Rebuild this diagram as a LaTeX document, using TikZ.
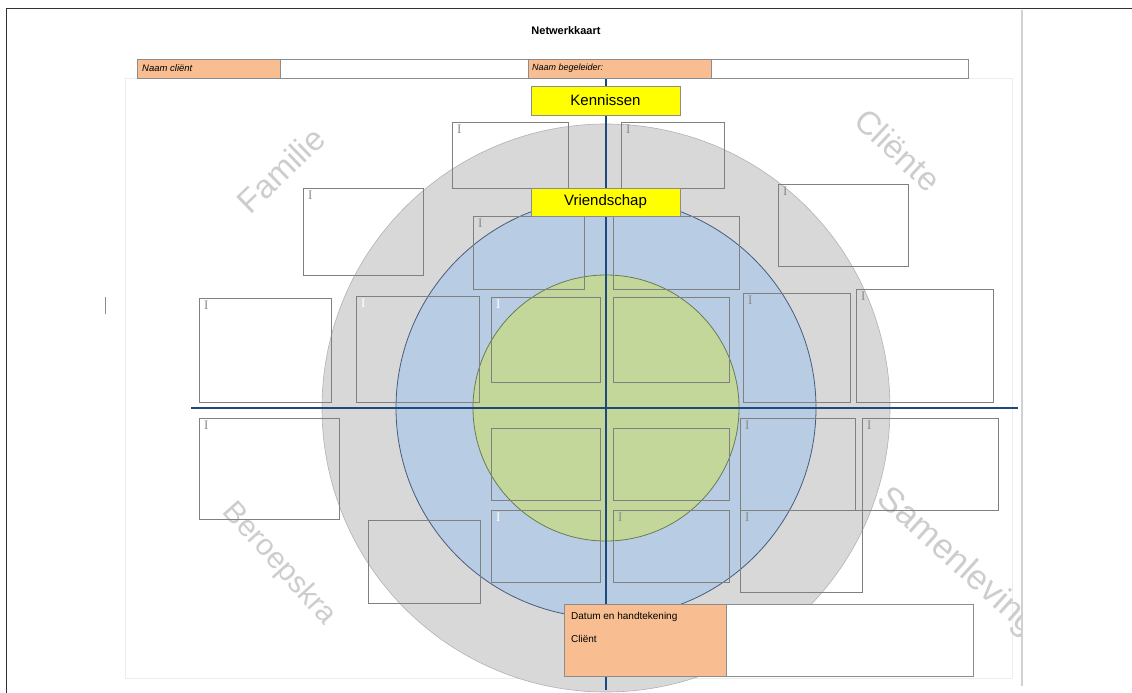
\documentclass[tikz,border=0pt]{standalone}
\usepackage{fontspec}
\setmainfont{Liberation Sans}
\newfontfamily\serifI{Liberation Serif}
\definecolor{circgray}{RGB}{216,216,216}
\definecolor{circblue}{RGB}{184,204,228}
\definecolor{circgreen}{RGB}{196,215,155}
\definecolor{bluebord}{RGB}{72,92,125}
\definecolor{greenbord}{RGB}{105,125,80}
\definecolor{axisblue}{RGB}{31,73,125}
\definecolor{boxgray}{RGB}{128,128,128}
\definecolor{nameorange}{RGB}{248,190,145}
\definecolor{kyellow}{RGB}{255,255,0}
\definecolor{wmgray}{RGB}{205,205,205}
\tikzset{
  nbox/.style={draw=boxgray, line width=0.9pt, anchor=north west, inner sep=0pt, outer sep=0pt},
  ilabel/.style={anchor=north west, inner sep=0pt, font=\serifI\fontsize{13}{13}\selectfont, text=black!45},
  iwhite/.style={ilabel, text=white},
  ybox/.style={draw=black!45, line width=0.9pt, fill=kyellow, anchor=north west, inner sep=0pt, outer sep=0pt, font=\fontsize{15}{15}\selectfont},
  obox/.style={draw=black!45, line width=0.8pt, fill=nameorange, anchor=north west, inner sep=0pt, outer sep=0pt},
  wbox/.style={draw=black!45, line width=0.8pt, fill=white, anchor=north west, inner sep=0pt, outer sep=0pt},
  wmark/.style={text=wmgray, font=\fontsize{33}{33}\selectfont, inner sep=0pt},
  axisline/.style={draw=axisblue, line width=2.6pt},
}
\newcommand\netbox[5]{\node[nbox, minimum width=#3pt, minimum height=#4pt] (#5) at (#1,#2) {};}
\begin{document}
\begin{tikzpicture}[x=1pt,y=-1pt]
\useasboundingbox (0,0) rectangle (1132,693);
% outer frame
\draw[black!80, line width=1pt] (6,693) -- (6,9) -- (1132,9);
% page
\draw[black!7, line width=0.8pt] (125,78) rectangle (1012,678);
\draw[black!18, line width=2pt] (1022,10) -- (1022,686);
\draw[black!45, line width=0.8pt] (105,297) -- (105,314);
% title
\node[font=\bfseries\fontsize{11}{11}\selectfont] (title) at (566,31) {Netwerkkaart};
% circles
\coordinate (c) at (606,408);
\fill[circgray] (c) circle (284);
\draw[black!30, line width=0.6pt] (c) circle (284);
\filldraw[fill=circblue, draw=bluebord, line width=0.8pt] (c) circle (210);
\filldraw[fill=circgreen, draw=greenbord, line width=0.8pt] (c) circle (133);
% watermark labels
\node[wmark, rotate=44] (fam) at (281,170) {Familie};
\node[wmark, rotate=-43] (cli) at (898,150) {Cliënte};
\node[wmark, rotate=-48, font=\fontsize{30}{30}\selectfont] (ber) at (279,564) {Beroepskra};
\begin{scope}
\clip (0,0) rectangle (1021,693);
\node[wmark, rotate=-42, font=\fontsize{35}{35}\selectfont] (sam) at (957,562) {Samenleving};
\end{scope}
% boxes
\netbox{452}{122}{116}{66}{b1}
\netbox{621}{122}{103}{66}{b2}
\netbox{303}{188}{120}{87}{b3}
\netbox{778}{184}{130}{82}{b4}
\netbox{473}{216}{111}{73}{b5}
\netbox{613}{216}{126}{73}{b6}
\netbox{199}{298}{132}{104}{b7}
\netbox{356}{296}{123}{106}{b8}
\netbox{491}{297}{109}{85}{b9}
\netbox{613}{297}{116}{85}{b10}
\netbox{743}{293}{107}{109}{b11}
\netbox{856}{289}{137}{113}{b12}
\netbox{199}{418}{140}{101}{b13}
\netbox{491}{428}{109}{72}{b14}
\netbox{613}{428}{116}{72}{b15}
\netbox{740}{418}{115}{92}{b16}
\netbox{862}{418}{136}{92}{b17}
\netbox{368}{520}{112}{83}{b18}
\netbox{491}{510}{109}{72}{b19}
\netbox{613}{510}{116}{72}{b20}
\netbox{740}{510}{122}{82}{b21}
% cursor marks
\foreach \b in {b1,b2,b3,b4,b5,b7,b11,b12,b13,b16,b17,b20,b21}
  \node[ilabel] at ([shift={(5,3)}]\b.north west) {I};
\foreach \b in {b8,b9,b19}
  \node[iwhite] at ([shift={(5,3)}]\b.north west) {I};
% axes
\coordinate (vtop) at (606,78);
\coordinate (vbot) at (606,690);
\coordinate (hl) at (191,408);
\coordinate (hr) at (1018,408);
\draw[axisline] (vtop) -- (vbot);
\draw[axisline] (hl) -- (hr);
% yellow labels
\node[ybox, minimum width=149pt, minimum height=29pt] (ken) at (531,86) {Kennissen};
\node[ybox, minimum width=149pt, minimum height=28pt] (vri) at (531,188) {Vriendschap};
% name bar
\node[obox, minimum width=143pt, minimum height=19pt] (nc) at (137,59) {};
\node[wbox, minimum width=248pt, minimum height=19pt] (ncv) at (280,59) {};
\node[obox, minimum width=183pt, minimum height=19pt] (nb) at (528,59) {};
\node[wbox, minimum width=257pt, minimum height=19pt] (nbv) at (711,59) {};
\node[anchor=west, font=\itshape\fontsize{9.5}{9.5}\selectfont, inner sep=0pt] at ([xshift=5pt]nc.west) {Naam cliënt};
\node[anchor=west, font=\itshape\fontsize{9}{9}\selectfont, inner sep=0pt] at ([xshift=4pt]nb.west) {Naam begeleider:};
% signature
\node[obox, minimum width=162pt, minimum height=72pt] (sig) at (564,604) {};
\node[wbox, minimum width=247pt, minimum height=72pt] (sigv) at (726,604) {};
\node[anchor=west, font=\fontsize{10}{10}\selectfont, inner sep=0pt] at (571,617) {Datum en handtekening};
\node[anchor=west, font=\fontsize{10}{10}\selectfont, inner sep=0pt] at (571,639) {Cliënt};
\end{tikzpicture}
\end{document}
